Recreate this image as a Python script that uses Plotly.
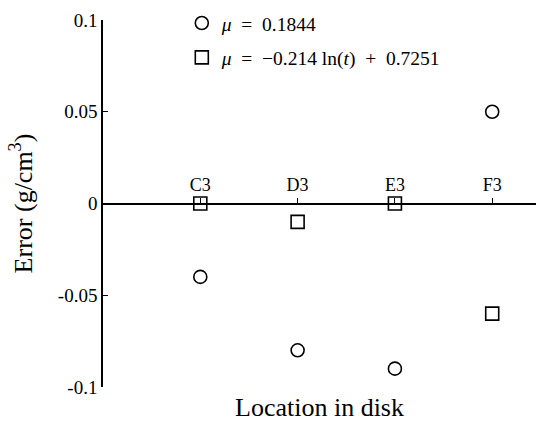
import plotly.graph_objects as go

categories = ["C3", "D3", "E3", "F3"]
cat_pos = [1, 2, 3, 4]
err_const = [-0.04, -0.08, -0.09, 0.05]
err_log = [0.0, -0.01, 0.0, -0.06]
y_ticks = [-0.1, -0.05, 0, 0.05, 0.1]
y_ticklabels = ["-0.1", "-0.05", "0", "0.05", "0.1"]
legend_names = [
    "<i>μ</i>&nbsp; = &nbsp;0.1844",
    "<i>μ</i>&nbsp; = &nbsp;−0.214 ln(<i>t</i>)&nbsp; + &nbsp;0.7251",
]

FONT = "Liberation Serif"

fig = go.Figure()
fig.add_trace(go.Scatter(
    x=cat_pos, y=err_const, mode="markers", name=legend_names[0],
    legendgroup="a",
    marker=dict(symbol="circle-open", size=13, color="black", line=dict(width=1.6, color="black")),
))
fig.add_trace(go.Scatter(
    x=cat_pos, y=err_log, mode="markers", name=legend_names[1],
    legendgroup="b",
    marker=dict(symbol="square-open", size=13, color="black", line=dict(width=1.6, color="black")),
))

fig.update_layout(
    width=536, height=424,
    margin=dict(l=103, r=0, t=20, b=37, autoexpand=False),
    paper_bgcolor="white", plot_bgcolor="white",
    font=dict(family=FONT, color="black", size=18),
    showlegend=True,
    legend=dict(x=0.182, y=1.044, xanchor="left", yanchor="top",
                bgcolor="rgba(0,0,0,0)", font=dict(family=FONT, size=19.5),
                traceorder="grouped", tracegroupgap=6),
    xaxis=dict(
        range=[0, 4.45], tickmode="array", tickvals=cat_pos, ticktext=categories,
        showgrid=False, zeroline=False, showline=True, linecolor="black", linewidth=1.5,
        anchor="free", position=0.5, side="top",
        ticks="outside", ticklen=5, tickwidth=1, tickcolor="black",
        tickfont=dict(family=FONT, size=18),
    ),
    yaxis=dict(
        range=[-0.1, 0.1], tickmode="array", tickvals=y_ticks, ticktext=y_ticklabels,
        showgrid=False, zeroline=False, showline=True, linecolor="black", linewidth=1.5,
        ticks="inside", ticklen=5, tickwidth=1, tickcolor="black",
        tickfont=dict(family=FONT, size=19),
        automargin=False,
        title=dict(text="Error (g/cm<sup>3</sup>)", font=dict(family=FONT, size=26), standoff=18),
    ),
)

fig.add_annotation(
    text="Location in disk", xref="paper", yref="paper", x=0.5, y=0, yshift=-37,
    xanchor="center", yanchor="bottom", showarrow=False,
    font=dict(family=FONT, size=26, color="black"),
)

fig.write_html("out.html", config={"displayModeBar": False},
               post_script="document.body.style.margin='0';")
